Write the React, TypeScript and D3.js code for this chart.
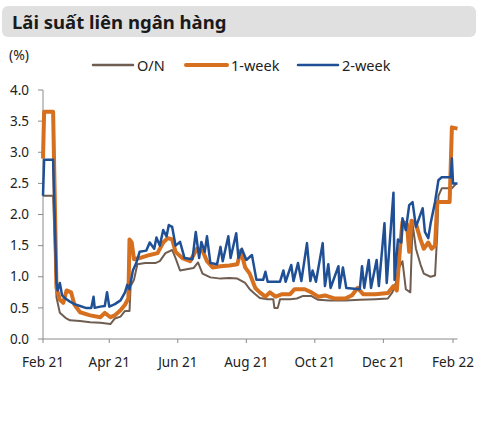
import * as d3 from 'd3';

// Days counted from 1 Feb 2021, values in %
const onDays = [0, 9, 12, 15, 20, 24, 33, 42, 51, 60, 64, 69, 73, 77, 78, 81, 84, 91, 100, 104, 109, 115, 118, 122, 128, 134, 138, 142, 149, 158, 166, 173, 180, 184, 189, 193, 200, 205, 206, 209, 211, 220, 226, 231, 239, 245, 255, 269, 282, 296, 307, 311, 314, 317, 320, 323, 327, 329, 332, 336, 339, 345, 349, 351, 352, 355, 364, 368];
const onValues = [2.3, 2.3, 0.67, 0.42, 0.34, 0.3, 0.29, 0.27, 0.26, 0.24, 0.33, 0.36, 0.45, 0.45, 0.85, 0.95, 1.2, 1.22, 1.22, 1.25, 1.38, 1.43, 1.3, 1.1, 1.12, 1.14, 1.23, 1.05, 0.99, 0.97, 0.98, 0.97, 0.9, 0.8, 0.72, 0.66, 0.64, 0.64, 0.5, 0.5, 0.64, 0.64, 0.65, 0.69, 0.69, 0.63, 0.62, 0.62, 0.63, 0.64, 0.65, 0.75, 0.9, 1.15, 1.25, 0.8, 0.75, 1.85, 1.45, 1.2, 1.05, 1.0, 1.02, 1.7, 2.3, 2.42, 2.42, 2.5];

const weekDays = [0, 1, 9, 12, 15, 18, 21, 25, 28, 33, 42, 51, 55, 60, 64, 69, 73, 76, 77, 79, 81, 86, 95, 102, 107, 111, 115, 118, 124, 131, 137, 142, 146, 151, 158, 166, 173, 176, 180, 184, 189, 193, 198, 202, 207, 213, 220, 224, 233, 239, 245, 251, 260, 269, 275, 280, 285, 296, 307, 312, 315, 318, 320, 324, 326, 328, 332, 336, 339, 343, 346, 349, 351, 362, 364, 369];
const weekValues = [2.9, 3.65, 3.65, 0.82, 0.63, 0.58, 0.78, 0.75, 0.55, 0.43, 0.38, 0.35, 0.42, 0.35, 0.38, 0.46, 0.55, 0.65, 1.6, 1.55, 1.28, 1.3, 1.35, 1.38, 1.55, 1.62, 1.6, 1.4, 1.3, 1.25, 1.45, 1.42, 1.25, 1.15, 1.17, 1.18, 1.2, 1.42, 1.15, 1.05, 0.82, 0.75, 0.68, 0.75, 0.68, 0.72, 0.72, 0.8, 0.8, 0.75, 0.68, 0.7, 0.65, 0.65, 0.7, 0.82, 0.72, 0.72, 0.74, 0.85, 0.78, 1.5, 1.88, 1.85, 1.4, 1.9, 1.85, 1.6, 1.45, 1.55, 1.45, 1.5, 2.2, 2.2, 3.4, 3.38];

const twoWeekDays = [0, 1, 9, 12, 13, 15, 17, 20, 24, 28, 33, 38, 43, 45, 46, 51, 55, 57, 59, 64, 69, 73, 75, 77, 80, 83, 86, 92, 95, 99, 101, 104, 107, 110, 112, 115, 118, 122, 126, 133, 136, 139, 141, 144, 146, 149, 155, 158, 160, 165, 167, 172, 174, 177, 181, 186, 190, 196, 198, 200, 211, 214, 216, 221, 223, 227, 230, 235, 238, 240, 243, 249, 251, 254, 256, 263, 264, 267, 270, 282, 284, 286, 290, 292, 297, 299, 304, 306, 312, 313, 316, 319, 320, 323, 326, 329, 332, 335, 338, 340, 343, 345, 349, 352, 355, 363, 364, 365, 369];
const twoWeekValues = [2.3, 2.88, 2.88, 0.9, 0.78, 0.9, 0.7, 0.65, 0.6, 0.56, 0.53, 0.5, 0.5, 0.68, 0.5, 0.52, 0.53, 0.75, 0.52, 0.56, 0.62, 0.75, 0.87, 0.8, 1.1, 1.22, 1.4, 1.42, 1.55, 1.45, 1.63, 1.5, 1.75, 1.65, 1.83, 1.8, 1.5, 1.56, 1.3, 1.28, 1.72, 1.3, 1.56, 1.4, 1.65, 1.22, 1.2, 1.48, 1.25, 1.65, 1.3, 1.7, 1.3, 1.45, 1.27, 1.35, 0.95, 0.95, 1.08, 0.92, 0.92, 1.1, 0.92, 1.19, 0.93, 1.22, 0.93, 1.54, 0.93, 1.1, 0.92, 1.54, 0.85, 1.2, 0.82, 1.17, 0.82, 1.15, 0.82, 0.8, 1.17, 0.82, 1.27, 0.82, 1.27, 0.85, 1.86, 0.9, 2.35, 0.95, 1.6, 1.55, 1.94, 1.75, 2.15, 2.2, 1.8, 1.95, 2.1, 1.72, 1.62, 1.85, 2.2, 2.55, 2.6, 2.6, 2.9, 2.5, 2.5];

const yTicks = [0, 0.5, 1, 1.5, 2, 2.5, 3, 3.5, 4];
const xTickDates = ['2021-02-01', '2021-04-01', '2021-06-01', '2021-08-01', '2021-10-01', '2021-12-01', '2022-02-01'];

const series = [
  { name: 'O/N', days: onDays, values: onValues, color: '#6e5d50', width: 2 },
  { name: '1-week', days: weekDays, values: weekValues, color: '#d66f1e', width: 4 },
  { name: '2-week', days: twoWeekDays, values: twoWeekValues, color: '#1f4f94', width: 2.5 },
];

const start = new Date(2021, 1, 1);
const font = '"Noto Sans", "Open Sans", sans-serif';

export default function App() {
  const x = d3.scaleTime()
    .domain([start, new Date(2022, 1, 5)])
    .range([43, 457.5]);
  const y = d3.scaleLinear().domain([0, 4]).range([339, 90]);

  const line = d3.line<[Date, number]>()
    .x(d => x(d[0]))
    .y(d => y(d[1]));

  const legend = [
    { x1: 93, x2: 133, tx: 137 },
    { x1: 186, x2: 227, tx: 231 },
    { x1: 298, x2: 338, tx: 342 },
  ];

  return (
    <svg width={482} height={433} style={{ position: 'absolute', left: 0, top: 0, fontFamily: font }}>
      <rect x={0} y={0} width={482} height={433} fill="#fff" />
      {/* title bar */}
      <rect x={2} y={6} width={474} height={31} rx={6} fill="#e0e0e0" />
      <text x={12} y={29} fontSize={18.5} fontWeight="bold" fill="#1a1a1a">Lãi suất liên ngân hàng</text>

      <text x={9} y={60} fontSize={14} fill="#222">(%)</text>

      {/* legend */}
      {series.map((s, i) => (
        <g key={s.name}>
          <line x1={legend[i].x1} x2={legend[i].x2} y1={65} y2={65} stroke={s.color} strokeWidth={s.width === 4 ? 4 : 2.5} strokeLinecap="round" />
          <text x={legend[i].tx} y={70.5} fontSize={14.5} fill="#222">{s.name}</text>
        </g>
      ))}

      {/* y axis */}
      <line x1={43} x2={43} y1={y(4)} y2={y(0)} stroke="#8a8a8a" />
      {yTicks.map(t => (
        <g key={t}>
          <line x1={38} x2={43} y1={y(t)} y2={y(t)} stroke="#8a8a8a" />
          <text x={29} y={y(t)} dy="0.35em" textAnchor="end" fontSize={13.5} fill="#222">{t.toFixed(1)}</text>
        </g>
      ))}

      {/* x axis */}
      <line x1={43} x2={457.5} y1={y(0)} y2={y(0)} stroke="#8a8a8a" />
      {xTickDates.map(s => {
        const d = d3.timeParse('%Y-%m-%d')(s) as Date;
        return (
          <g key={s}>
            <line x1={x(d)} x2={x(d)} y1={y(0)} y2={y(0) + 4} stroke="#8a8a8a" />
            <text x={x(d)} y={y(0) + 28} textAnchor="middle" fontSize={13.5} fill="#222">{d3.timeFormat('%b %y')(d)}</text>
          </g>
        );
      })}

      {/* series */}
      {series.map(s => {
        const pts: [Date, number][] = s.days.map((dd, i) => [d3.timeDay.offset(start, dd), s.values[i]]);
        return (
          <path key={s.name} d={line(pts) ?? ''} fill="none" stroke={s.color} strokeWidth={s.width} strokeLinejoin="round" />
        );
      })}
    </svg>
  );
}
